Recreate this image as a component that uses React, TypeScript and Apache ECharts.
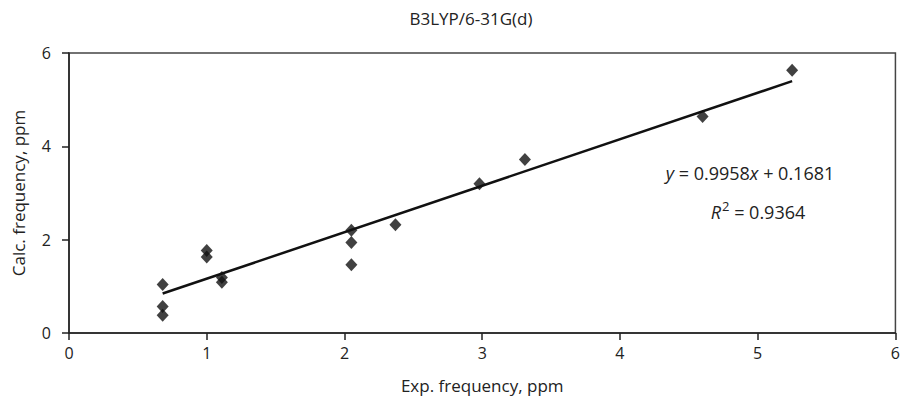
import React, { useEffect, useRef } from "react";
import * as echarts from "echarts";

const titleText = "B3LYP/6-31G(d)";
const xName = "Exp. frequency, ppm";
const yName = "Calc. frequency, ppm";
const expFreq = [0.68, 0.68, 0.68, 1.0, 1.0, 1.11, 1.11, 2.05, 2.05, 2.05, 2.37, 2.98, 3.31, 4.6, 5.25];
const calcFreq = [1.04, 0.57, 0.38, 1.77, 1.63, 1.19, 1.09, 2.2, 1.94, 1.46, 2.32, 3.2, 3.72, 4.64, 5.63];
const slope = 0.9958;
const intercept = 0.1681;
const rSquared = 0.9364;

const FONT = "'Open Sans', 'Noto Sans', sans-serif";

export default function App() {
  const ref = useRef<HTMLDivElement>(null);
  useEffect(() => {
    if (!ref.current) return;
    const chart = echarts.init(ref.current, undefined, { renderer: "svg" });
    const points = expFreq.map((x, i) => [x, calcFreq[i]]);
    const xMin = Math.min(...expFreq);
    const xMax = Math.max(...expFreq);
    const trend = [
      [xMin, slope * xMin + intercept],
      [xMax, slope * xMax + intercept],
    ];
    chart.setOption({
      animation: false,
      backgroundColor: "#fff",
      textStyle: { fontFamily: FONT, color: "#222" },
      grid: {
        left: 69,
        right: 5,
        top: 53,
        bottom: 69,
        show: true,
        borderColor: "#444",
        borderWidth: 1.5,
        backgroundColor: "transparent",
      },
      xAxis: {
        type: "value",
        min: 0,
        max: 6,
        interval: 1,
        name: xName,
        nameLocation: "middle",
        nameGap: 44,
        nameTextStyle: { fontSize: 17, color: "#222", fontFamily: FONT },
        axisLine: { show: true, lineStyle: { color: "#222", width: 1.5 } },
        axisTick: { show: true, length: 7, lineStyle: { color: "#222", width: 1.5 } },
        axisLabel: { fontSize: 16, color: "#222", margin: 12, fontFamily: FONT },
        splitLine: { show: false },
      },
      yAxis: {
        type: "value",
        min: 0,
        max: 6,
        interval: 2,
        name: yName,
        nameLocation: "middle",
        nameGap: 42,
        nameTextStyle: { fontSize: 17, color: "#222", fontFamily: FONT },
        axisLine: { show: true, lineStyle: { color: "#222", width: 1.5 } },
        axisTick: { show: true, length: 7, lineStyle: { color: "#222", width: 1.5 } },
        axisLabel: { fontSize: 16, color: "#222", margin: 18, fontFamily: FONT },
        splitLine: { show: false },
      },
      series: [
        {
          type: "line",
          data: trend,
          showSymbol: false,
          symbol: "none",
          lineStyle: { color: "#111", width: 2.5 },
          z: 2,
        },
        {
          type: "scatter",
          data: points,
          symbol: "diamond",
          symbolSize: [12, 13],
          itemStyle: { color: "#111" },
          z: 3,
        },
      ],
      graphic: [
        {
          type: "text",
          x: 471,
          y: 18,
          style: {
            text: titleText,
            fontSize: 17,
            fontFamily: FONT,
            fill: "#222",
            align: "center",
            verticalAlign: "middle",
          },
        },
        {
          type: "text",
          x: 750,
          y: 173,
          style: {
            text: "{i|y} = " + slope.toFixed(4) + "{i|x} + " + intercept.toFixed(4),
            fontSize: 18,
            fontFamily: FONT,
            fill: "#222",
            align: "center",
            verticalAlign: "middle",
            rich: {
              i: { fontStyle: "italic", fontSize: 18, fontFamily: FONT, fill: "#222" },
            },
          },
        },
        {
          type: "text",
          x: 758,
          y: 212,
          style: {
            text: "{i|R}{s|2} = " + rSquared.toFixed(4),
            fontSize: 18,
            fontFamily: FONT,
            fill: "#222",
            align: "center",
            verticalAlign: "middle",
            rich: {
              i: { fontStyle: "italic", fontSize: 18, fontFamily: FONT, fill: "#222" },
              s: { fontSize: 13, fontFamily: FONT, fill: "#222", verticalAlign: "top", padding: [0, 0, 12, 1] },
            },
          },
        },
      ],
    });
    return () => chart.dispose();
  }, []);
  return (
    <div
      ref={ref}
      style={{ position: "fixed", left: 0, top: 0, width: 903, height: 402 }}
    />
  );
}
